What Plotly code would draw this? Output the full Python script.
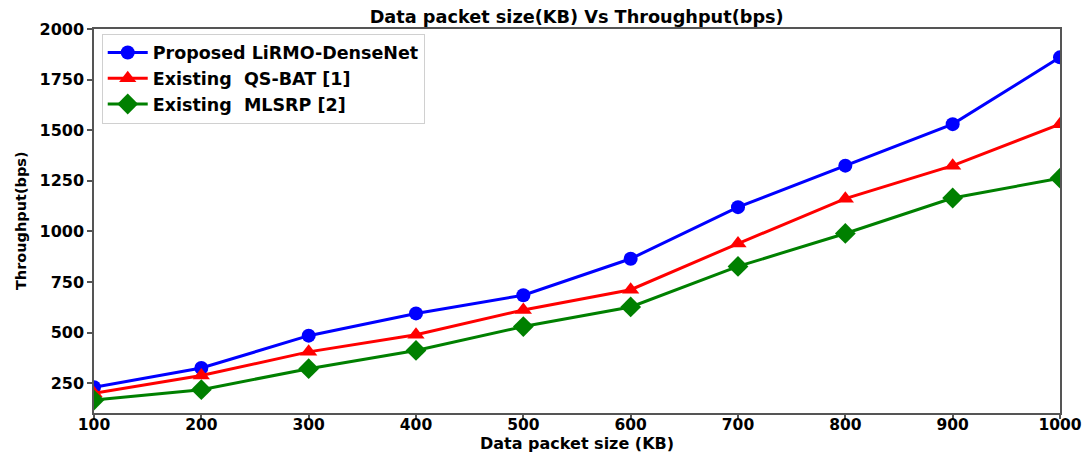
import plotly.graph_objects as go

packet_size = [100, 200, 300, 400, 500, 600, 700, 800, 900, 1000]
lirmo = [230, 325, 485, 595, 685, 865, 1120, 1325, 1530, 1860]
qsbat = [200, 288, 405, 490, 612, 712, 940, 1162, 1325, 1530]
mlsrp = [167, 218, 322, 412, 530, 627, 827, 990, 1165, 1263]

series = [
    ("Proposed LiRMO-DenseNet", lirmo, "#0000ff", "circle", 14),
    ("Existing  QS-BAT [1]", qsbat, "#ff0000", "triangle-up", 15),
    ("Existing  MLSRP [2]", mlsrp, "#008000", "diamond", 16),
]

FONT = "DejaVu Sans"
fig = go.Figure()
for name, vals, color, sym, sz in series:
    fig.add_trace(go.Scatter(
        x=packet_size, y=vals, name=name, mode="lines+markers",
        line=dict(color=color, width=3),
        marker=dict(symbol=sym, size=sz, color=color),
    ))

axis_common = dict(
    showline=True, linecolor="#555555", linewidth=1.5, mirror=True,
    ticks="outside", tickwidth=1.5, tickcolor="#555555",
    showgrid=False, zeroline=False, automargin=False,
)

fig.update_layout(
    width=1085, height=452,
    margin=dict(l=94, r=25, t=29, b=39),
    paper_bgcolor="white", plot_bgcolor="white",
    title=dict(text="Data packet size(KB) Vs Throughput(bps)",
               x=0.5315, xanchor="center", y=0.962, yanchor="middle",
               font=dict(family=FONT, size=17.7, color="black", weight="bold")),
    xaxis=dict(range=[100, 1000], tickvals=packet_size, ticklen=4,
               ticklabelstandoff=-7,
               tickfont=dict(family=FONT, size=15.5, color="black", weight="bold"),
               **axis_common),
    yaxis=dict(range=[103, 2000], tickvals=[250, 500, 750, 1000, 1250, 1500, 1750, 2000],
               ticklen=5,
               tickfont=dict(family=FONT, size=16, color="black", weight="bold"),
               **axis_common),
    legend=dict(x=0.008, y=0.988, xanchor="left", yanchor="top",
                bgcolor="white", bordercolor="#d0d0d0", borderwidth=1,
                font=dict(family=FONT, size=17.5, color="black", weight="bold"),
                tracegroupgap=0, itemwidth=40),
    showlegend=True,
    annotations=[
        dict(text="Data packet size (KB)", xref="paper", yref="paper",
             x=0.5, y=-0.08, xanchor="center", yanchor="middle", showarrow=False,
             font=dict(family=FONT, size=16, color="black", weight="bold")),
        dict(text="Throughput(bps)", xref="paper", yref="paper",
             x=-0.0755, y=0.5, xanchor="center", yanchor="middle", showarrow=False,
             textangle=-90,
             font=dict(family=FONT, size=14.5, color="black", weight="bold")),
    ],
)

fig.write_html("out.html")
